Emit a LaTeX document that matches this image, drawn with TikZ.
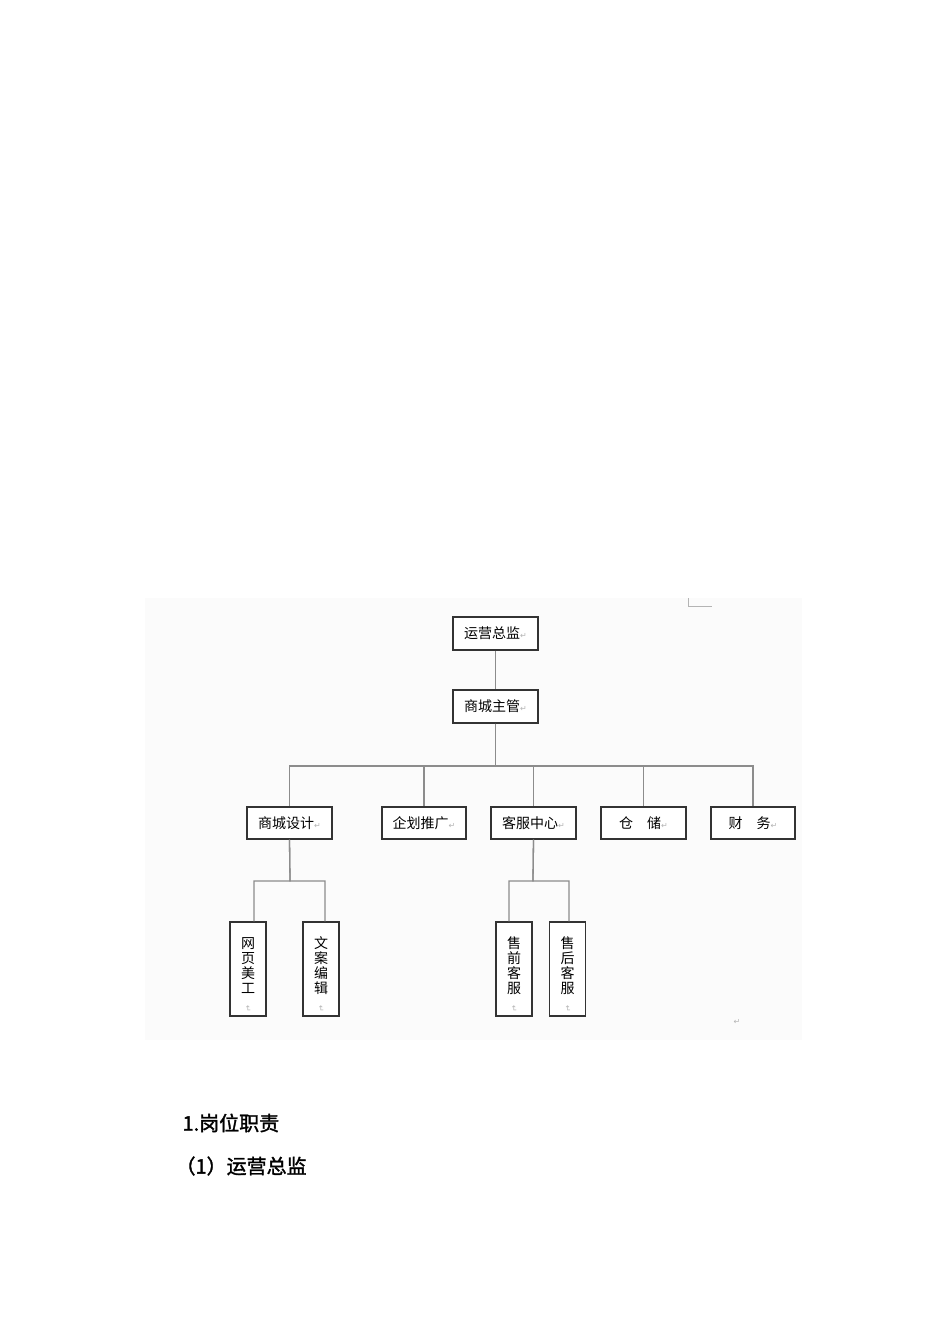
\documentclass[tikz,border=0pt]{standalone}
\usepackage{fontspec}
\setmainfont{Liberation Serif}
\newfontfamily\cjk{Noto Sans CJK SC}
\newfontfamily\cjkheavy[FakeBold=1.6]{Noto Sans CJK SC}
\newfontfamily\markfont{DejaVu Sans}
\usepackage{tikz}
\usetikzlibrary{calc}
\definecolor{linegray}{HTML}{8C8C8C}
\definecolor{boxgray}{HTML}{333333}
\definecolor{markgray}{HTML}{B4B4B4}
\definecolor{pagegray}{HTML}{FBFBFB}
\tikzstyle{orgline}=[draw=linegray, line width=1.3pt]
\tikzstyle{orgbox}=[draw=boxgray, line width=1.4pt, fill=white, minimum width=85pt, minimum height=33pt, inner sep=0pt, font=\cjk\fontsize{14}{14}\selectfont]
\tikzstyle{tallbox}=[orgbox, minimum width=36pt, minimum height=94pt, align=center, font=\cjk\fontsize{14}{15}\selectfont]
\tikzstyle{doctext}=[anchor=west, font=\cjkheavy\fontsize{20}{20}\selectfont]
\newcommand{\retmark}{{\markfont\color{markgray}\fontsize{8}{8}\selectfont ↵}}
\newcommand{\stackChars}[4]{\rule{0pt}{22pt}#1\\#2\\#3\\#4\\[-3pt]\rotatebox{-90}{\retmark}}

\begin{document}
\begin{tikzpicture}[x=1pt, y=-1pt]
	\useasboundingbox (0,0) rectangle (950,1344);
	\fill[white] (0,0) rectangle (950,1344);
	\fill[pagegray] (145,598) rectangle (802,1040);
	\draw[markgray, line width=0.8pt] (688,598) -- (688,606) -- (712,606);
	\node[orgbox] (director) at (495.5,633.5) {运营总监\retmark};
	\node[orgbox] (manager) at (495.5,706.5) {商城主管\retmark};
	\node[orgbox, minimum height=32pt] (design) at (289.5,823) {商城设计\retmark};
	\node[orgbox, minimum height=32pt, minimum width=84pt] (plan) at (424,823) {企划推广\retmark};
	\node[orgbox, minimum height=32pt] (service) at (533.5,823) {客服中心\retmark};
	\node[orgbox, minimum height=32pt] (store) at (643.5,823) {仓\quad 储\retmark};
	\node[orgbox, minimum height=32pt, minimum width=84pt] (finance) at (753,823) {财\quad 务\retmark};
	\node[tallbox] (web) at (248,969) {\stackChars{网}{页}{美}{工}};
	\node[tallbox] (copy) at (321,969) {\stackChars{文}{案}{编}{辑}};
	\node[tallbox] (presale) at (514,969) {\stackChars{售}{前}{客}{服}};
	\node[tallbox] (aftersale) at (567.5,969) {\stackChars{售}{后}{客}{服}};
	\coordinate (bus) at (495.5,766);
	\coordinate (designbus) at (290,881);
	\coordinate (servicebus) at (533,881);
	\draw[orgline] (director) -- (manager);
	\foreach \n in {design,plan,service,store,finance}
		\draw[orgline] (manager.south) -- (bus) -| (\n.north);
	\foreach \n/\s in {web/6,copy/4}
		\draw[orgline] (design.south) -- (designbus) -| ([xshift=\s pt]\n.north);
	\foreach \n/\s in {presale/-5,aftersale/1.5}
		\draw[orgline] (service.south) -- (servicebus) -| ([xshift=\s pt]\n.north);
	\node (endmark) at (737,1022) {\retmark};
	\node[doctext] (duty) at (179,1123) {1.岗位职责};
	\node[doctext] (dutyone) at (172,1166) {（1）运营总监};
\end{tikzpicture}
\end{document}
